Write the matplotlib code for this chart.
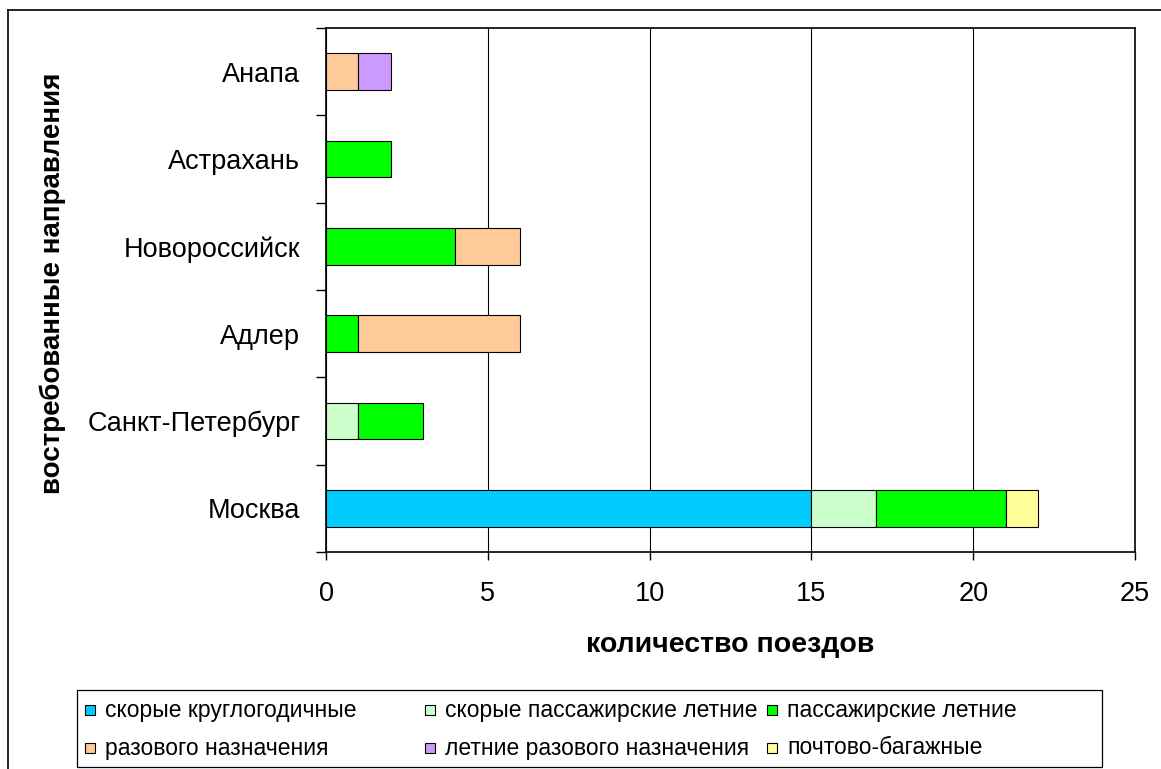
import matplotlib
matplotlib.use("Agg")
import matplotlib.pyplot as plt
from matplotlib.patches import Rectangle
from matplotlib.lines import Line2D
import numpy as np

plt.rcParams['font.family'] = ['Liberation Sans', 'DejaVu Sans']

# Destinations (bottom to top) and trains per category
cities = ['Москва', 'Санкт-Петербург', 'Адлер', 'Новороссийск', 'Астрахань', 'Анапа']
series_names = ['скорые круглогодичные', 'скорые пассажирские летние', 'пассажирские летние',
                'разового назначения', 'летние разового назначения', 'почтово-багажные']
fast_all_year = [15, 0, 0, 0, 0, 0]
fast_summer = [2, 1, 0, 0, 0, 0]
passenger_summer = [4, 2, 1, 4, 2, 0]
one_time = [0, 0, 5, 2, 0, 1]
summer_one_time = [0, 0, 0, 0, 0, 1]
mail_baggage = [1, 0, 0, 0, 0, 0]
series_colors = ['#00CCFF', '#CCFFCC', '#00FF00', '#FFCC99', '#CC99FF', '#FFFF99']
x_ticks = [0, 5, 10, 15, 20, 25]

W, H = 1161, 769
fig = plt.figure(figsize=(W / 100, H / 100), dpi=100)
fig.patch.set_facecolor('white')


def fx(px):
    return px / W


def fy(py):
    return 1 - py / H


ax = fig.add_axes([fx(326), fy(552), fx(1135) - fx(326), fy(28) - fy(552)])

all_series = [fast_all_year, fast_summer, passenger_summer, one_time, summer_one_time, mail_baggage]
y = np.arange(len(cities))
left = np.zeros(len(cities))
bar_h = 0.42
for vals, color in zip(all_series, series_colors):
    vals = np.asarray(vals, dtype=float)
    mask = vals > 0
    ax.barh(y[mask], vals[mask], left=left[mask], height=bar_h, color=color,
            edgecolor='black', linewidth=0.8, zorder=3)
    left += vals

ax.set_xlim(0, 25)
ax.set_ylim(-0.5, len(cities) - 0.5)
ax.set_xticks(x_ticks)
ax.set_xticklabels([str(t) for t in x_ticks])
ax.set_yticks(y)
ax.set_yticklabels(cities)
ax.set_yticks(np.arange(-0.5, len(cities), 1.0), minor=True)

ax.tick_params(axis='x', direction='out', length=6, width=1, pad=15, labelsize=19.5, colors='black')
ax.tick_params(axis='y', which='major', length=0, pad=18.5, labelsize=19.5)
ax.tick_params(axis='y', which='minor', direction='out', length=7, width=1)

ax.xaxis.grid(True, color='black', linewidth=0.8)
ax.set_axisbelow(True)
for s in ax.spines.values():
    s.set_color('black')
    s.set_linewidth(1.2)

# Axis titles
fig.text(fx(730), fy(645), 'количество поездов', ha='center', va='center',
         fontsize=20.5, fontweight='bold')
fig.text(fx(53), fy(283), 'востребованные направления', ha='center', va='center',
         rotation=90, fontsize=20, fontweight='bold')

# Outer chart frame
fig.add_artist(Line2D([fx(8), fx(8)], [fy(10), 0], color='black', linewidth=1.2))
fig.add_artist(Line2D([fx(8), 1], [fy(10), fy(10)], color='black', linewidth=1.2))

# Legend: 2 rows x 3 columns
fig.add_artist(Rectangle((fx(77), fy(767)), fx(1102) - fx(77), fy(690) - fy(767),
                         transform=fig.transFigure, facecolor='white', edgecolor='black',
                         linewidth=0.9))
col_x = [85, 425, 767]
row_y = [710, 748]
sq = 10
for i, (name, color) in enumerate(zip(series_names, series_colors)):
    r, c = divmod(i, 3)
    x0 = col_x[c]
    yc = row_y[r]
    fig.add_artist(Rectangle((fx(x0), fy(yc + sq / 2)), fx(sq), fy(yc - sq / 2) - fy(yc + sq / 2),
                             transform=fig.transFigure, facecolor=color, edgecolor='black',
                             linewidth=0.8))
    fig.text(fx(x0 + 20), fy(yc), name, ha='left', va='center', fontsize=16.5)

fig.savefig('out.png', dpi=100)
